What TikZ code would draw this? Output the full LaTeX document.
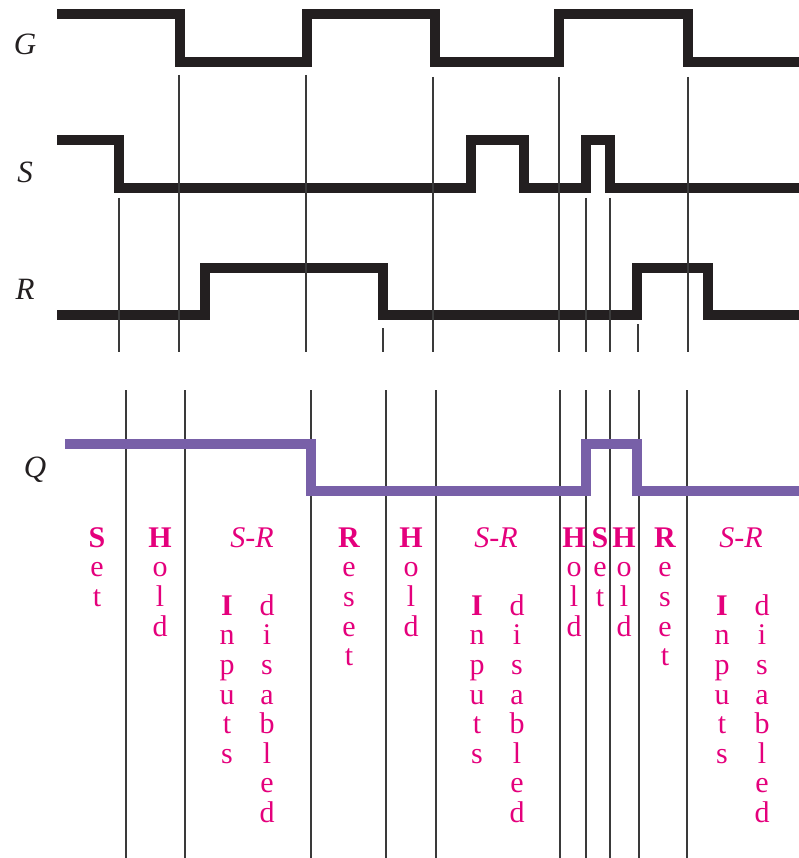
\documentclass[tikz,border=0pt]{standalone}
\usepackage{fontspec}
\setmainfont{Liberation Serif}
\definecolor{wave}{HTML}{231F20}
\definecolor{qpurple}{HTML}{7860A8}
\definecolor{mag}{HTML}{E4007C}
\definecolor{tick}{HTML}{3A3A3A}
\begin{document}
\begin{tikzpicture}[x=1pt,y=-1pt,
  wavestyle/.style={line width=10pt,line join=miter,line cap=butt,draw=wave},
  qwave/.style={line width=10pt,line join=miter,line cap=butt,draw=qpurple},
  tickline/.style={line width=1.5pt,draw=tick},
  siglabel/.style={font=\fontsize{31}{31}\selectfont\itshape,text=wave,inner sep=0pt},
  vword/.style={font=\fontsize{30}{29.6}\selectfont,text=mag,align=center,inner sep=0pt,anchor=north},
  srlabel/.style={font=\fontsize{30}{30}\selectfont\itshape,text=mag,inner sep=0pt,anchor=base}]
\useasboundingbox (0,0) rectangle (799,858);

% signal labels
\node[siglabel] (lG) at (25,44) {G};
\node[siglabel] (lS) at (25,172) {S};
\node[siglabel] (lR) at (25,289) {R};
\node[siglabel] (lQ) at (35,470) {Q};

% waveforms
\draw[wavestyle] (57,14) -- (180,14) -- (180,62) -- (307,62) -- (307,14) -- (435,14) -- (435,62) -- (559,62) -- (559,14) -- (688,14) -- (688,62) -- (799,62);
\draw[wavestyle] (57,140) -- (119,140) -- (119,188) -- (471,188) -- (471,140) -- (524,140) -- (524,188) -- (586,188) -- (586,140) -- (610,140) -- (610,188) -- (799,188);
\draw[wavestyle] (57,315) -- (205,315) -- (205,268) -- (383,268) -- (383,315) -- (637,315) -- (637,268) -- (708,268) -- (708,315) -- (799,315);

% upper reference lines
\draw[tickline] (119,198) -- (119,352);
\draw[tickline] (179,75) -- (179,352);
\draw[tickline] (306,75) -- (306,352);
\draw[tickline] (383,328) -- (383,352);
\draw[tickline] (433,77) -- (433,352);
\draw[tickline] (559,77) -- (559,352);
\draw[tickline] (586,198) -- (586,352);
\draw[tickline] (610,198) -- (610,352);
\draw[tickline] (638,324) -- (638,352);
\draw[tickline] (688,77) -- (688,352);

% lower reference lines
\foreach \xx in {126,185,311,386,436,560,586,610,639,687}
  \draw[tickline] (\xx,390) -- (\xx,858);

% Q waveform
\draw[qwave] (65,443.5) -- (311,443.5) -- (311,491) -- (586,491) -- (586,443.5) -- (637,443.5) -- (637,491) -- (799,491);

% state labels
\node[vword] (set1) at (97,526) {\rule{0pt}{21pt}\textbf{S}\\e\\t};
\node[vword] (hold1) at (160,526) {\rule{0pt}{21pt}\textbf{H}\\o\\l\\d};
\node[srlabel] (sr1) at (252,547) {S-R};
\node[vword] (inp1) at (227,594) {\rule{0pt}{21pt}\textbf{I}\\n\\p\\u\\t\\s};
\node[vword] (dis1) at (267,594) {\rule{0pt}{21pt}d\\i\\s\\a\\b\\l\\e\\d};
\node[vword] (reset1) at (349,526) {\rule{0pt}{21pt}\textbf{R}\\e\\s\\e\\t};
\node[vword] (hold2) at (411,526) {\rule{0pt}{21pt}\textbf{H}\\o\\l\\d};
\node[srlabel] (sr2) at (496,547) {S-R};
\node[vword] (inp2) at (477,594) {\rule{0pt}{21pt}\textbf{I}\\n\\p\\u\\t\\s};
\node[vword] (dis2) at (517,594) {\rule{0pt}{21pt}d\\i\\s\\a\\b\\l\\e\\d};
\node[vword] (hold3) at (574,526) {\rule{0pt}{21pt}\textbf{H}\\o\\l\\d};
\node[vword] (set2) at (600,526) {\rule{0pt}{21pt}\textbf{S}\\e\\t};
\node[vword] (hold4) at (624,526) {\rule{0pt}{21pt}\textbf{H}\\o\\l\\d};
\node[vword] (reset2) at (665,526) {\rule{0pt}{21pt}\textbf{R}\\e\\s\\e\\t};
\node[srlabel] (sr3) at (741,547) {S-R};
\node[vword] (inp3) at (722,594) {\rule{0pt}{21pt}\textbf{I}\\n\\p\\u\\t\\s};
\node[vword] (dis3) at (762,594) {\rule{0pt}{21pt}d\\i\\s\\a\\b\\l\\e\\d};
\end{tikzpicture}
\end{document}
